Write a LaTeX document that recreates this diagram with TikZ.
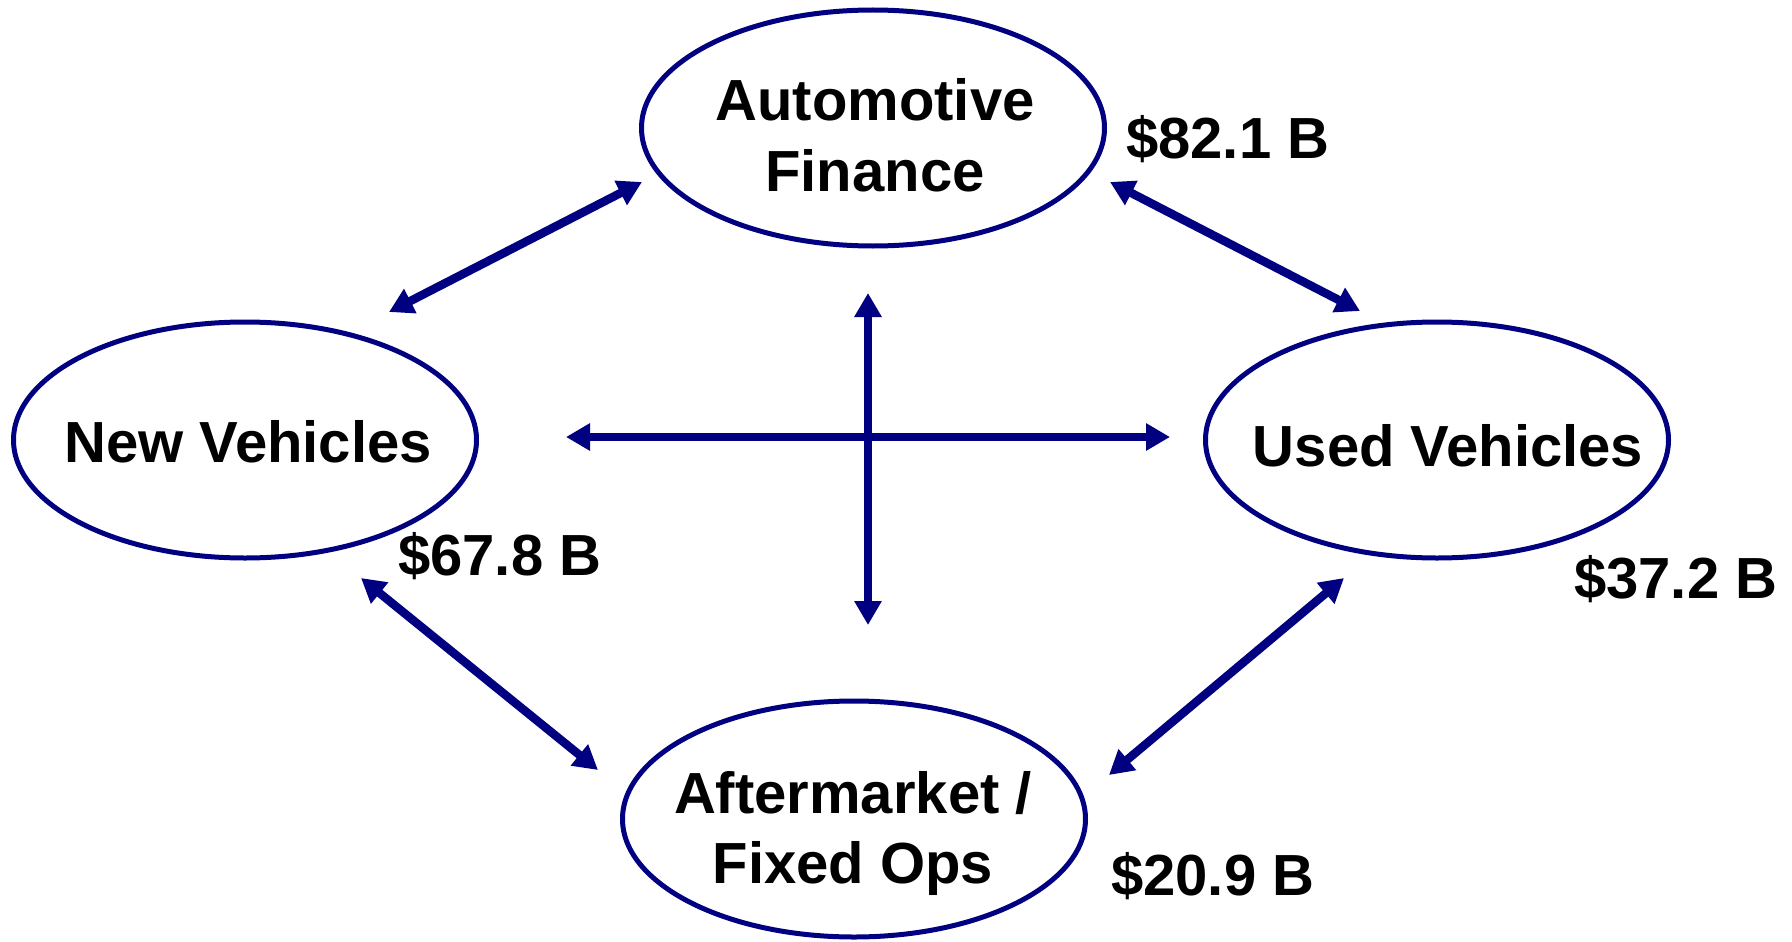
\documentclass[tikz,border=0pt]{standalone}
\usepackage{fontspec}
\setmainfont{Liberation Sans}
\usetikzlibrary{shapes.geometric,arrows.meta}
\definecolor{navyblue}{RGB}{0,0,128}
\begin{document}
\begin{tikzpicture}[x=1pt,y=-1pt,
  oval/.style={draw=navyblue,line width=5pt,ellipse,minimum width=463pt,minimum height=236pt,inner sep=0pt},
  txt/.style={anchor=base,inner sep=0pt,font=\fontsize{58}{68}\selectfont\bfseries},
  money/.style={anchor=base west,inner sep=0pt,font=\fontsize{58}{68}\selectfont\bfseries},
  link/.style={draw=navyblue,line width=8.5pt,{Triangle[length=24pt,width=26pt]}-{Triangle[length=24pt,width=26pt]}}]
\useasboundingbox (0,0) rectangle (1792,942);
% ellipses
\node[oval] (af) at (873,128) {};
\node[oval] (nv) at (245,440) {};
\node[oval] (uv) at (1437,440) {};
\node[oval] (am) at (854,819) {};
% texts
\node[txt] (afa) at (875,121) {Automotive};
\node[txt] (afb) at (875,191) {Finance};
\node[txt] (nvt) at (248,462) {New Vehicles};
\node[txt] (uvt) at (1448,466) {Used Vehicles};
\node[txt] (ama) at (853,813) {Aftermarket /};
\node[txt] (amb) at (853,883) {Fixed Ops};
% values
\node[money] (vaf) at (1126,158) {\$82.1 B};
\node[money] (vnv) at (398,575) {\$67.8 B};
\node[money] (vuv) at (1574,598) {\$37.2 B};
\node[money] (vam) at (1111,895) {\$20.9 B};
% connector ends
\coordinate (nvA) at (389,312);
\coordinate (afL) at (642,182);
\coordinate (afR) at (1110,182);
\coordinate (uvA) at (1360,311);
\coordinate (nvB) at (361,578);
\coordinate (amL) at (598,770);
\coordinate (uvB) at (1344,578);
\coordinate (amR) at (1109,775);
\coordinate (cT) at (868,293);
\coordinate (cB) at (868,625);
\coordinate (cL) at (566,437);
\coordinate (cR) at (1170,437);
% connectors
\draw[link] (nvA) -- (afL);
\draw[link] (afR) -- (uvA);
\draw[link] (nvB) -- (amL);
\draw[link] (uvB) -- (amR);
\draw[link] (cL) -- (cR);
\draw[link] (cT) -- (cB);
\end{tikzpicture}
\end{document}
